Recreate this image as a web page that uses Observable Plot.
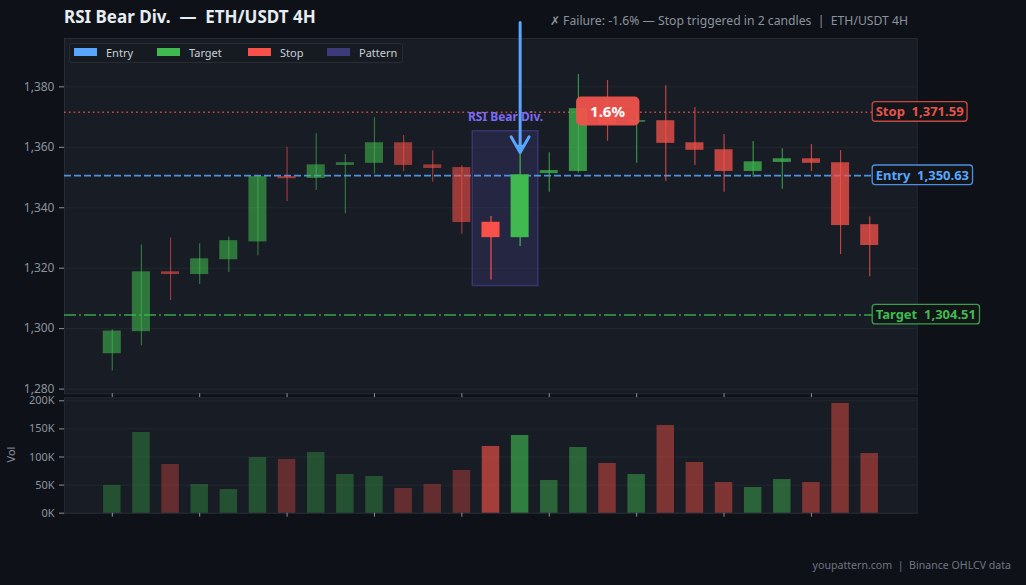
<!DOCTYPE html>
<html>
<head>
<meta charset="utf-8">
<script src="https://cdn.jsdelivr.net/npm/d3@7"></script>
<script src="https://cdn.jsdelivr.net/npm/@observablehq/plot@0.6"></script>
<style>
  html, body { margin: 0; padding: 0; background: #0e1117; }
  #root { position: relative; width: 1026px; height: 585px; background: #0e1117; overflow: hidden; font-family: "Noto Sans", "Open Sans", sans-serif; }
  .abs { position: absolute; white-space: pre; }
  #title { left: 64px; top: 5px; font-size: 17px; font-weight: 700; color: #e6edf3; }
  #subtitle { right: 118px; top: 12px; font-size: 12.2px; color: #8b949e; }
  #legend { left: 69px; top: 43px; width: 334px; height: 20px; box-sizing: border-box; background: #161a21; border: 1px solid #262b34; border-radius: 3px; }
  .lg-sw { position: absolute; top: 4px; width: 23px; height: 8px; }
  .lg-tx { position: absolute; top: 1px; font-size: 11px; color: #c9d1d9; line-height: 15px; }
  #vol-label { left: 3px; top: 447px; font-size: 11px; color: #8b949e; transform: rotate(-90deg); transform-origin: center; }
  #footer { right: 15px; top: 558px; font-size: 10.6px; color: #6e7681; }
  #price, #volume { position: absolute; left: 0; }
  #price { top: 0; }
  #volume { top: 390px; }
</style>
</head>
<body>
<div id="root">
  <div id="price"></div>
  <div id="volume"></div>
  <div id="title" class="abs">RSI Bear Div.  —  ETH/USDT 4H</div>
  <div id="subtitle" class="abs">✗ Failure: -1.6% — Stop triggered in 2 candles  |  ETH/USDT 4H</div>
  <div id="legend" class="abs"></div>
  <div id="vol-label" class="abs">Vol</div>
  <div id="footer" class="abs">youpattern.com  |  Binance OHLCV data</div>
</div>
<script>
// ---------------- DATA ----------------
const candleOpen  = [1291.7, 1299.0, 1318.8, 1317.9, 1322.8, 1328.7, 1350.3, 1349.7, 1354.0, 1354.7, 1361.5, 1354.2, 1353.3, 1335.2, 1330.1, 1351.3, 1352.0, 1372.0, 1368.3, 1368.8, 1361.5, 1359.2, 1352.0, 1355.0, 1356.2, 1354.9, 1334.4];
const candleHigh  = [1299.6, 1327.7, 1330.0, 1328.1, 1330.4, 1350.5, 1360.0, 1364.5, 1357.6, 1369.8, 1363.9, 1358.9, 1353.9, 1337.1, 1358.9, 1358.2, 1384.1, 1382.1, 1370.5, 1380.4, 1373.1, 1364.2, 1361.9, 1359.5, 1360.9, 1358.9, 1337.0];
const candleLow   = [1286.0, 1294.3, 1309.3, 1314.6, 1318.6, 1324.1, 1342.1, 1345.7, 1338.0, 1351.2, 1352.0, 1348.4, 1331.2, 1316.1, 1327.2, 1345.1, 1351.4, 1362.0, 1354.7, 1348.7, 1354.0, 1345.1, 1350.0, 1346.1, 1352.0, 1324.5, 1317.2];
const candleClose = [1299.2, 1318.8, 1317.9, 1323.1, 1329.1, 1350.3, 1349.6, 1354.2, 1354.9, 1361.5, 1354.0, 1353.0, 1335.1, 1330.1, 1350.9, 1352.3, 1372.8, 1367.5, 1368.8, 1361.3, 1359.0, 1352.0, 1355.2, 1356.2, 1354.7, 1334.1, 1327.5];
const volume      = [49300, 143600, 86700, 51000, 42100, 99100, 95600, 108000, 68800, 65300, 43900, 51000, 76000, 118700, 138300, 58200, 116900, 88400, 68800, 156100, 90200, 54600, 45700, 59900, 54600, 195300, 106200];

const patternStart = 13, patternEnd = 14;          // candle indices of the pattern
const patternLow = 1314.1, patternHigh = 1365.3;   // pattern box price range
const patternName = "RSI Bear Div.";

const levelNames  = ["Stop", "Entry", "Target"];
const levelPrices = [1371.59, 1350.63, 1304.51];

const signalIndex = 14;          // arrow points at this candle
const arrowFrom = 1401.3, arrowTo = 1358.3;
const outcomeIndex = 17;         // "1.6%" badge anchor
const outcomeText = "1.6%";

const priceTicks = [1280, 1300, 1320, 1340, 1360, 1380];
const volTicks = [0, 50000, 100000, 150000, 200000];
const timeTicks = [0, 3, 6, 9, 12, 15, 18, 21, 24];

const legendItems = ["Entry", "Target", "Stop", "Pattern"];

// ---------------- STYLE ----------------
const C = { up: "#3fb950", down: "#f85149", entry: "#58a6ff", target: "#3fb950", stop: "#e5534b", pattern: "#3d3a7a", patternText: "#7b6cf6", badge: "#ef534c", panel: "#181c24", border: "#262b34", grid: "#232830", axis: "#8b949e" };
const levelStyle = {
  Stop:   { color: C.stop,   dash: "1.7,3.1" },
  Entry:  { color: C.entry,  dash: "7,3" },
  Target: { color: C.target, dash: "12,3,2,3" }
};

const candles = candleOpen.map((o, i) => {
  const phase = i < patternStart ? "pre" : i <= patternEnd ? "pat" : "post";
  const up = candleClose[i] >= o;
  return {
    i, open: o, high: candleHigh[i], low: candleLow[i], close: candleClose[i], vol: volume[i],
    color: up ? C.up : C.down,
    op: phase === "pre" ? 0.58 : phase === "pat" ? 1 : 0.75,
    vop: phase === "pre" ? 0.34 : phase === "pat" ? 0.63 : 0.46
  };
});
const levels = levelNames.map((n, k) => ({ name: n, price: levelPrices[k], label: `${n}  ${d3.format(",.2f")(levelPrices[k])}`, color: levelStyle[n].color }));

const xDomain = [-1.64, 27.63];
const W = 1026, ML = 64, MR = 109.3;
const hw = 0.31;

// ---------------- PRICE PANEL ----------------
const price = Plot.plot({
  width: W, height: 398, marginLeft: ML, marginRight: MR, marginTop: 38, marginBottom: 4.7,
  x: { domain: xDomain, axis: null },
  y: { domain: [1278.44, 1396.0], axis: null },
  color: { type: "identity" },
  style: { background: "transparent", color: C.axis, fontFamily: "Noto Sans", fontSize: "12px", overflow: "visible" },
  marks: [
    Plot.frame({ fill: C.panel, stroke: C.border }),
    Plot.gridY(priceTicks, { stroke: C.grid, strokeOpacity: 1 }),
    Plot.axisY(priceTicks, { tickSize: 5, tickPadding: 5, tickFormat: d3.format(","), label: null }),
    Plot.axisX(timeTicks, { tickSize: 4, tickFormat: () => "", label: null }),
    Plot.rect([{ s: patternStart, e: patternEnd, lo: patternLow, hi: patternHigh }], {
      x1: d => d.s - 0.625, x2: d => d.e + 0.625, y1: "lo", y2: "hi",
      fill: C.pattern, fillOpacity: 0.35, stroke: C.pattern, strokeOpacity: 0.85, strokeWidth: 1.5
    }),
    ...levels.map(l => Plot.ruleY([l], { y: "price", stroke: l.color, strokeOpacity: 0.85, strokeWidth: 1.6, strokeDasharray: levelStyle[l.name].dash })),
    Plot.ruleX(candles, { x: "i", y1: "low", y2: "high", stroke: "color", strokeOpacity: "op", strokeWidth: 1.2 }),
    Plot.rect(candles, { x1: d => d.i - hw, x2: d => d.i + hw, y1: "open", y2: "close", fill: "color", fillOpacity: "op" }),
    Plot.text([patternName], { x: (patternStart + patternEnd) / 2, y: patternHigh, dy: -14.5, fill: C.patternText, fontWeight: "bold", fontSize: 12 }),
    Plot.arrow([{ x: signalIndex, y1: arrowFrom, y2: arrowTo }], { x: "x", y1: "y1", y2: "y2", stroke: C.entry, strokeWidth: 3, headLength: 9, headAngle: 60 }),
    Plot.dot([{ x: signalIndex, y: arrowTo }], { x: "x", y: "y", symbol: "triangle", rotate: 180, r: 3.4, dy: -5, fill: C.entry, stroke: "none" }),
    Plot.text([{ x: outcomeIndex, y: levelPrices[0], t: outcomeText }], { x: "x", y: "y", text: "t", fill: "white", fontWeight: "bold", fontSize: 15 }),
    Plot.text(levels, { y: "price", text: "label", frameAnchor: "right", dx: -41.5, textAnchor: "start", fill: "color", fontWeight: "bold", fontSize: 13 })
  ]
});
document.getElementById("price").appendChild(price);

// ---------------- VOLUME PANEL ----------------
const vol = Plot.plot({
  width: W, height: 128.7, marginLeft: ML, marginRight: MR, marginTop: 7.3, marginBottom: 6,
  x: { domain: xDomain, axis: null },
  y: { domain: [0, 205340], axis: null },
  color: { type: "identity" },
  style: { background: "transparent", color: C.axis, fontFamily: "Noto Sans", fontSize: "11px", overflow: "visible" },
  marks: [
    Plot.frame({ fill: C.panel, stroke: C.border }),
    Plot.gridY(volTicks, { stroke: C.grid, strokeOpacity: 1 }),
    Plot.axisY(volTicks, { tickSize: 5, tickPadding: 5, tickFormat: d => `${d / 1000}K`, label: null }),
    Plot.axisX(timeTicks, { tickSize: 4, tickFormat: () => "", label: null }),
    Plot.rect(candles, { x1: d => d.i - 0.3, x2: d => d.i + 0.3, y1: 0, y2: "vol", fill: "color", fillOpacity: "vop" })
  ]
});
document.getElementById("volume").appendChild(vol);

// ---------------- boxes behind annotation texts ----------------
function addBox(svg, str, o) {
  const t = Array.from(svg.querySelectorAll("text")).find(e => e.textContent === str);
  if (!t) return;
  const b = t.getBBox();
  const r = document.createElementNS("http://www.w3.org/2000/svg", "rect");
  const col = t.getAttribute("fill") || t.parentNode.getAttribute("fill");
  r.setAttribute("x", b.x - o.padX);
  r.setAttribute("y", b.y - o.padY);
  r.setAttribute("width", b.width + 2 * o.padX);
  r.setAttribute("height", b.height + 2 * o.padY);
  r.setAttribute("rx", o.rx);
  r.setAttribute("fill", o.fill);
  if (o.fillOpacity != null) r.setAttribute("fill-opacity", o.fillOpacity);
  if (o.stroke !== false) { r.setAttribute("stroke", col); r.setAttribute("stroke-width", 1.3); r.setAttribute("stroke-opacity", 0.85); }
  if (t.getAttribute("transform")) r.setAttribute("transform", t.getAttribute("transform"));
  t.parentNode.insertBefore(r, t);
}
levels.forEach(l => addBox(price, l.label, { padX: 3.5, padY: 0.8, rx: 3, fill: "#121519", fillOpacity: 0.92 }));
addBox(price, outcomeText, { padX: 14, padY: 4.5, rx: 5, fill: C.badge, fillOpacity: 0.95, stroke: false });

// ---------------- legend ----------------
const legendColor = { Entry: C.entry, Target: C.target, Stop: C.down, Pattern: C.pattern };
const lg = document.getElementById("legend");
const swX = [4, 87, 178, 257];
legendItems.forEach((name, k) => {
  const sw = document.createElement("div");
  sw.className = "lg-sw"; sw.style.left = swX[k] + "px"; sw.style.background = legendColor[name];
  const tx = document.createElement("div");
  tx.className = "lg-tx"; tx.style.left = (swX[k] + 32) + "px"; tx.textContent = name;
  lg.appendChild(sw); lg.appendChild(tx);
});
</script>
</body>
</html>
